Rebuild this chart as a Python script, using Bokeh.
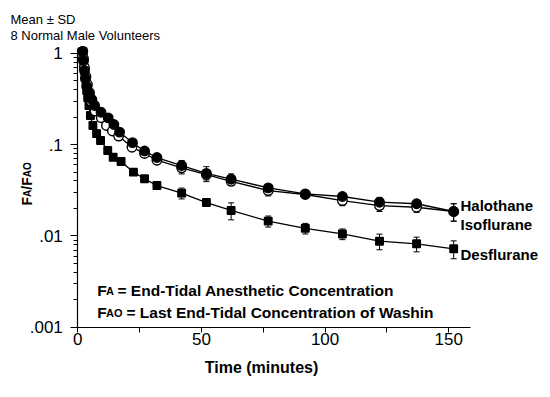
import math
from bokeh.plotting import figure
from bokeh.models import ColumnDataSource, Whisker, TeeHead, Label, FixedTicker, CustomJSTickFormatter
from bokeh.embed import file_html
from bokeh.resources import INLINE

# ---- data ----
des_t = [2.0, 2.2, 2.4, 2.7, 3.0, 3.3, 3.6, 4.0, 4.5, 5.1, 6.1, 7.6, 9.2, 12.1, 14.3, 17.5,
         22.5, 27, 32, 42, 52, 62, 77, 92, 107, 122, 137, 152]
des_v = [1.05, 0.92, 0.773, 0.648, 0.543, 0.455, 0.391, 0.328, 0.268, 0.208, 0.162, 0.132,
         0.111, 0.0862, 0.0728, 0.0653, 0.0499, 0.0422, 0.0356, 0.0294, 0.0232, 0.019,
         0.0145, 0.0121, 0.0105, 0.00875, 0.00819, 0.00722]
des_sd = [0.02, 0.03, 0.03, 0.03, 0.03, 0.03, 0.03, 0.025, 0.02, 0.02, 0.015, 0.012, 0.01,
          0.008, 0.006, 0.005, 0.004, 0.002, 0.003, 0.004, 0.0015, 0.004, 0.002, 0.0016,
          0.0014, 0.0017, 0.0015, 0.0016]

hal_t = [2.0, 2.3, 2.7, 3.1, 3.7, 4.6, 5.7, 6.8, 9.4, 12.3, 14.6, 16.9, 22.1, 27, 32, 42,
         52, 62, 77, 92, 107, 122, 137, 152]
hal_v = [1.05, 0.834, 0.648, 0.53, 0.433, 0.363, 0.312, 0.268, 0.226, 0.196, 0.166, 0.137,
         0.105, 0.0851, 0.0722, 0.059, 0.0483, 0.0418, 0.0336, 0.0289, 0.027, 0.0234,
         0.0225, 0.0185]
hal_sd = [0.03, 0.03, 0.03, 0.03, 0.025, 0.02, 0.02, 0.02, 0.015, 0.012, 0.01, 0.01, 0.008,
          0.006, 0.005, 0.008, 0.009, 0.006, 0.002, 0.0015, 0.0015, 0.003, 0.002, 0.004]

iso_t = [2.0, 2.3, 2.7, 3.3, 3.9, 4.7, 5.4, 7.0, 9.5, 11.6, 14.0, 16.5, 21.9, 27, 32, 42,
         52, 62, 77, 92, 107, 122, 137, 152]
iso_v = [1.05, 0.877, 0.699, 0.557, 0.455, 0.372, 0.299, 0.233, 0.197, 0.162, 0.141, 0.124,
         0.0937, 0.0799, 0.0675, 0.0557, 0.047, 0.0396, 0.0314, 0.0284, 0.0244, 0.0215,
         0.0206, 0.0185]
iso_sd = [0.03, 0.03, 0.03, 0.03, 0.025, 0.02, 0.02, 0.015, 0.012, 0.01, 0.01, 0.008, 0.007,
          0.005, 0.004, 0.008, 0.006, 0.004, 0.004, 0.002, 0.003, 0.003, 0.0025, 0.004]

series_names = ["Halothane", "Isoflurane", "Desflurane"]
x_ticks = [0, 50, 100, 150]
x_minor = [25, 75, 125]
y_ticks = [0.001, 0.01, 0.1, 1]
y_minor = [m * d for d in (0.001, 0.01, 0.1) for m in range(2, 10)]

FONT = "Liberation Sans"
W, H = 550, 397

# The frame covers the whole canvas so that every text can live inside it;
# the axes are pinned at x=0 / y=0.001 with fixed_location.
p = figure(width=W, height=H, x_range=(-31.26, 191.15), y_range=(1.698e-4, 3.787),
           y_axis_type="log", output_backend="svg", toolbar_location=None,
           min_border=0, min_border_left=0, min_border_right=0,
           min_border_top=0, min_border_bottom=0)
p.outline_line_color = None
p.xgrid.grid_line_color = None
p.ygrid.grid_line_color = None
p.background_fill_color = "white"
p.border_fill_color = "white"

for ax in (p.xaxis[0], p.yaxis[0]):
    ax.axis_line_color = "black"
    ax.axis_line_width = 1.2
    ax.major_tick_line_color = "black"
    ax.minor_tick_line_color = "black"
    ax.major_tick_in = 0
    ax.minor_tick_in = 0
    ax.major_label_text_font = FONT
    ax.major_label_text_font_size = "17px"
    ax.major_label_text_color = "black"

p.xaxis.fixed_location = 0.001
p.xaxis.bounds = (-1.6, 159)
p.xaxis.ticker = FixedTicker(ticks=x_ticks, minor_ticks=x_minor)
p.xaxis.major_tick_out = 5
p.xaxis.minor_tick_out = 5
p.xaxis.major_label_standoff = 1

p.yaxis.fixed_location = 0
p.yaxis.bounds = (0.001, 1.128)
p.yaxis.ticker = FixedTicker(ticks=y_ticks, minor_ticks=y_minor)
p.yaxis.major_tick_out = 7
p.yaxis.minor_tick_out = 4
p.yaxis.major_label_standoff = 8
p.yaxis.formatter = CustomJSTickFormatter(
    code="return tick >= 1 ? String(Math.round(tick)) : String(tick).replace(/^0/, '');")


def add_series(t, v, sd, marker, fill, size):
    src = ColumnDataSource(dict(t=t, v=v,
                                up=[a + b for a, b in zip(v, sd)],
                                lo=[a - b for a, b in zip(v, sd)]))
    p.add_layout(Whisker(source=src, base="t", upper="up", lower="lo", dimension="height",
                         line_color="black", line_width=1,
                         upper_head=TeeHead(size=6, line_color="black", line_width=1),
                         lower_head=TeeHead(size=6, line_color="black", line_width=1)))
    p.line("t", "v", source=src, line_color="black", line_width=1.3)
    p.scatter("t", "v", source=src, marker=marker, size=size, fill_color=fill,
              line_color="black", line_width=1.4)


add_series(des_t, des_v, des_sd, "square", "black", 7.5)
add_series(iso_t, iso_v, iso_sd, "circle", "white", 9.5)
add_series(hal_t, hal_v, hal_sd, "circle", "black", 9.5)


# ---- texts: page pixel positions -> screen units (y counted from the bottom) ----
def txt(px, py, s, size, bold=False, angle=0.0, align="left"):
    p.add_layout(Label(x=px, y=H - py, x_units="screen", y_units="screen",
                       text=s, text_font=FONT, text_font_size=f"{size}px",
                       text_font_style="bold" if bold else "normal", text_color="black",
                       text_align=align, text_baseline="alphabetic", angle=angle))


txt(10, 18.5, "Mean \u00b1 SD", 13)
txt(10, 35, "8 Normal Male Volunteers", 13)

txt(460, 204.5, series_names[0], 15, bold=True)
txt(460, 224, series_names[1], 15, bold=True)
txt(460, 253.5, series_names[2], 15, bold=True)

txt(261, 367, "Time (minutes)", 16, bold=True, align="center")

txt(96.7, 289.5, "F", 15.5, bold=True)
txt(105.5, 290.5, "A", 11, bold=True)
txt(117, 289.5, "= End-Tidal Anesthetic Concentration", 15.5, bold=True)
txt(96.7, 311.7, "F", 15.5, bold=True)
txt(105.5, 312.7, "AO", 11, bold=True)
txt(126, 311.7, "= Last End-Tidal Concentration of Washin", 15.5, bold=True)

R = math.pi / 2
txt(26, 205.0, "F", 14, bold=True, angle=R)
txt(27, 196.4, "A", 10, bold=True, angle=R)
txt(26, 189.2, "/", 14, bold=True, angle=R)
txt(26, 185.3, "F", 14, bold=True, angle=R)
txt(27, 176.7, "AO", 10, bold=True, angle=R)

open("out.html", "w").write(file_html(p, INLINE))
